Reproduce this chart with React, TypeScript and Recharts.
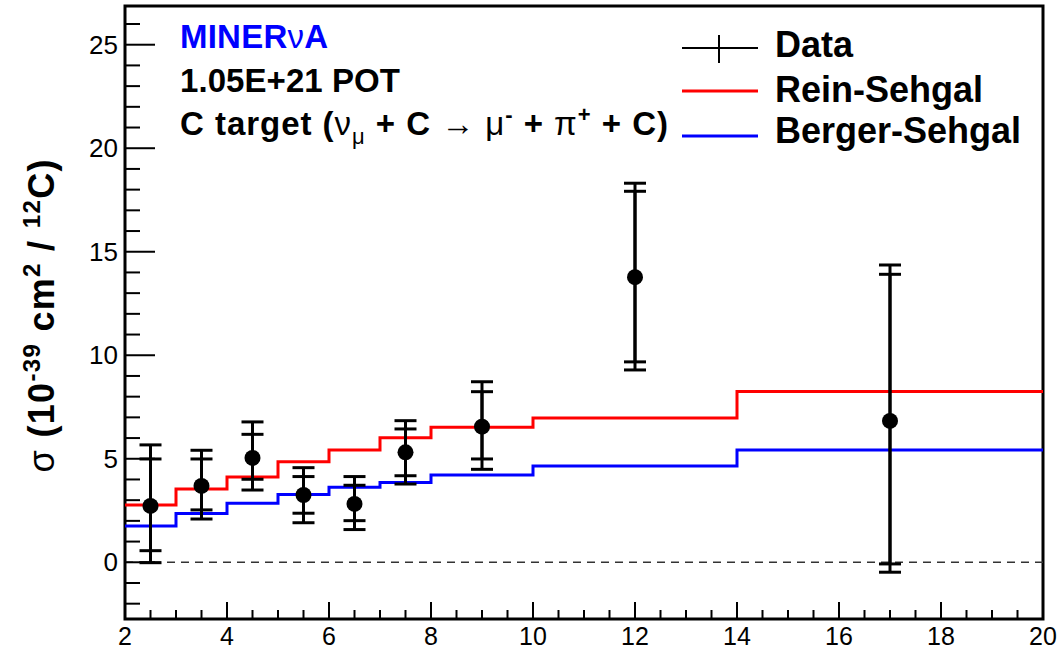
import React from 'react';
import {
  ComposedChart,
  Line,
  Scatter,
  ErrorBar,
  XAxis,
  YAxis,
  ReferenceLine,
  ReferenceArea,
} from 'recharts';

// Neutrino energy bin edges (GeV) for the model histograms
const binEdges = [2, 3, 4, 5, 6, 7, 8, 10, 14, 20];
const reinSehgal = [2.77, 3.54, 4.12, 4.86, 5.42, 6.02, 6.52, 6.97, 8.25];
const bergerSehgal = [1.75, 2.35, 2.85, 3.27, 3.62, 3.85, 4.22, 4.65, 5.42];

// Measured cross section with statistical (inner) and total (outer) errors
const dataX = [2.5, 3.5, 4.5, 5.5, 6.5, 7.5, 9, 12, 17];
const dataY = [2.72, 3.69, 5.04, 3.25, 2.82, 5.31, 6.55, 13.77, 6.83];
const statErrUp = [2.27, 1.3, 1.14, 0.89, 0.9, 1.13, 1.69, 4.15, 7.08];
const statErrDown = [2.16, 1.16, 1.03, 0.88, 0.81, 1.13, 1.56, 4.09, 6.91];
const totErrUp = [2.95, 1.72, 1.74, 1.32, 1.32, 1.53, 2.17, 4.54, 7.53];
const totErrDown = [2.74, 1.6, 1.55, 1.34, 1.24, 1.53, 2.06, 4.48, 7.31];

// Axis ticks
const xMajorTicks = [2, 4, 6, 8, 10, 12, 14, 16, 18, 20];
const xMinorTicks = [
  2.5, 3, 3.5, 4.5, 5, 5.5, 6.5, 7, 7.5, 8.5, 9, 9.5, 10.5, 11, 11.5, 12.5, 13,
  13.5, 14.5, 15, 15.5, 16.5, 17, 17.5, 18.5, 19, 19.5,
];
const yMajorTicks = [0, 5, 10, 15, 20, 25];
const yMinorTicks = [
  -2, -1, 1, 2, 3, 4, 6, 7, 8, 9, 11, 12, 13, 14, 16, 17, 18, 19, 21, 22, 23, 24, 26,
];
const xDomain = [2, 20];
const yDomain = [-2.74, 26.87];

const seriesNames = ['Data', 'Rein-Sehgal', 'Berger-Sehgal'];
const seriesColors = ['#000000', '#ff0000', '#0000ff'];

const FONT = '"Liberation Sans", Arial, Helvetica, sans-serif';

const stepTable = (vals: number[]) =>
  binEdges.map((e, i) => ({ x: e, v: vals[Math.min(i, vals.length - 1)] }));

const rsSteps = stepTable(reinSehgal);
const bsSteps = stepTable(bergerSehgal);

const points = dataX.map((x, i) => ({
  x,
  y: dataY[i],
  stat: [statErrDown[i], statErrUp[i]],
  tot: [totErrDown[i], totErrUp[i]],
}));

const XTick = (props: any) => {
  const { x, y, payload } = props;
  const major = xMajorTicks.includes(payload.value);
  return (
    <g>
      <line x1={x} x2={x} y1={y} y2={y - (major ? 17 : 9)} stroke="#000" strokeWidth={2} />
      {major && (
        <text x={x} y={y + 26} textAnchor="middle" fontSize={25} fontFamily={FONT} fill="#000">
          {payload.value}
        </text>
      )}
    </g>
  );
};

const YTick = (props: any) => {
  const { x, y, payload } = props;
  const major = yMajorTicks.includes(payload.value);
  return (
    <g>
      <line x1={x} x2={x + (major ? 30 : 15)} y1={y} y2={y} stroke="#000" strokeWidth={2} />
      {major && (
        <text x={x - 7} y={y + 9} textAnchor="end" fontSize={26} fontFamily={FONT} fill="#000">
          {payload.value}
        </text>
      )}
    </g>
  );
};

const Dot = (props: any) => <circle cx={props.cx} cy={props.cy} r={8} fill="#000" />;

export default function App() {
  return (
    <div
      style={{
        position: 'absolute',
        left: 0,
        top: 0,
        width: 1059,
        height: 651,
        background: '#ffffff',
      }}
    >
      <ComposedChart
        width={1059}
        height={651}
        margin={{ top: 6, right: 16, bottom: 0, left: 25 }}
      >
        <XAxis
          dataKey="x"
          type="number"
          domain={xDomain}
          allowDataOverflow
          ticks={[...xMajorTicks, ...xMinorTicks].sort((a, b) => a - b)}
          interval={0}
          tick={<XTick />}
          tickSize={0}
          tickMargin={0}
          tickLine={false}
          axisLine={false}
          height={32}
        />
        <YAxis
          type="number"
          domain={yDomain}
          allowDataOverflow
          ticks={[...yMajorTicks, ...yMinorTicks].sort((a, b) => a - b)}
          interval={0}
          tick={<YTick />}
          tickSize={0}
          tickMargin={0}
          tickLine={false}
          axisLine={false}
          width={100}
        />
        <ReferenceLine y={0} stroke="#333" strokeDasharray="8 6" strokeWidth={1.5} />
        <Line
          data={rsSteps}
          dataKey="v"
          type="stepAfter"
          stroke={seriesColors[1]}
          strokeWidth={3}
          dot={false}
          isAnimationActive={false}
          name={seriesNames[1]}
        />
        <Line
          data={bsSteps}
          dataKey="v"
          type="stepAfter"
          stroke={seriesColors[2]}
          strokeWidth={3}
          dot={false}
          isAnimationActive={false}
          name={seriesNames[2]}
        />
        <Scatter
          data={points}
          dataKey="y"
          shape={<Dot />}
          isAnimationActive={false}
          name={seriesNames[0]}
        >
          <ErrorBar dataKey="tot" direction="y" width={11} strokeWidth={3} stroke="#000" />
          <ErrorBar dataKey="stat" direction="y" width={11} strokeWidth={3} stroke="#000" />
        </Scatter>
        <ReferenceArea
          x1={xDomain[0]}
          x2={xDomain[1]}
          y1={yDomain[0]}
          y2={yDomain[1]}
          fill="none"
          fillOpacity={0}
          stroke="#000"
          strokeWidth={3}
        />
      </ComposedChart>

      <svg
        width={1059}
        height={651}
        style={{ position: 'absolute', left: 0, top: 0, pointerEvents: 'none' }}
        fontFamily={FONT}
      >
        {/* y-axis title */}
        <text
          x={54}
          y={316}
          transform="rotate(-90 54 316)"
          textAnchor="middle"
          fontSize={36}
          fontWeight="bold"
          fill="#000"
          textLength={313}
          lengthAdjust="spacing"
        >
          <tspan fontWeight="normal">σ</tspan>
          <tspan> (10</tspan>
          <tspan fontSize={24} dy={-14}>-39</tspan>
          <tspan dy={14}> cm</tspan>
          <tspan fontSize={24} dy={-14}>2</tspan>
          <tspan dy={14}> /  </tspan>
          <tspan fontSize={24} dy={-14}>12</tspan>
          <tspan dy={14}>C)</tspan>
        </text>

        {/* experiment labels */}
        <text x={180} y={48} fontSize={33} fontWeight="bold" fill="#0000ff" textLength={148} lengthAdjust="spacing">
          MINER<tspan fontWeight="normal">ν</tspan>A
        </text>
        <text x={180} y={92} fontSize={33} fontWeight="bold" fill="#000" textLength={220} lengthAdjust="spacing">
          1.05E+21 POT
        </text>
        <text x={180} y={135} fontSize={33} fontWeight="bold" fill="#000" textLength={488} lengthAdjust="spacing">
          <tspan>C target  (</tspan>
          <tspan fontWeight="normal">ν</tspan>
          <tspan fontWeight="normal" fontSize={22} dy={9}>μ</tspan>
          <tspan dy={-9}> + C </tspan>
          <tspan fontWeight="normal">→ μ</tspan>
          <tspan fontSize={22} dy={-13}>-</tspan>
          <tspan dy={13}> + </tspan>
          <tspan fontWeight="normal">π</tspan>
          <tspan fontSize={22} dy={-13}>+</tspan>
          <tspan dy={13}> + C)</tspan>
        </text>

        {/* legend */}
        <g>
          <line x1={682} x2={758} y1={48} y2={48} stroke={seriesColors[0]} strokeWidth={2} />
          <line x1={719} x2={719} y1={35} y2={63} stroke={seriesColors[0]} strokeWidth={2} />
          <text x={775} y={57} fontSize={36} fontWeight="bold" fill="#000">{seriesNames[0]}</text>
          <line x1={682} x2={758} y1={91} y2={91} stroke={seriesColors[1]} strokeWidth={3} />
          <text x={775} y={102} fontSize={36} fontWeight="bold" fill="#000">{seriesNames[1]}</text>
          <line x1={682} x2={758} y1={136} y2={136} stroke={seriesColors[2]} strokeWidth={3} />
          <text x={775} y={143} fontSize={36} fontWeight="bold" fill="#000">{seriesNames[2]}</text>
        </g>
      </svg>
    </div>
  );
}
